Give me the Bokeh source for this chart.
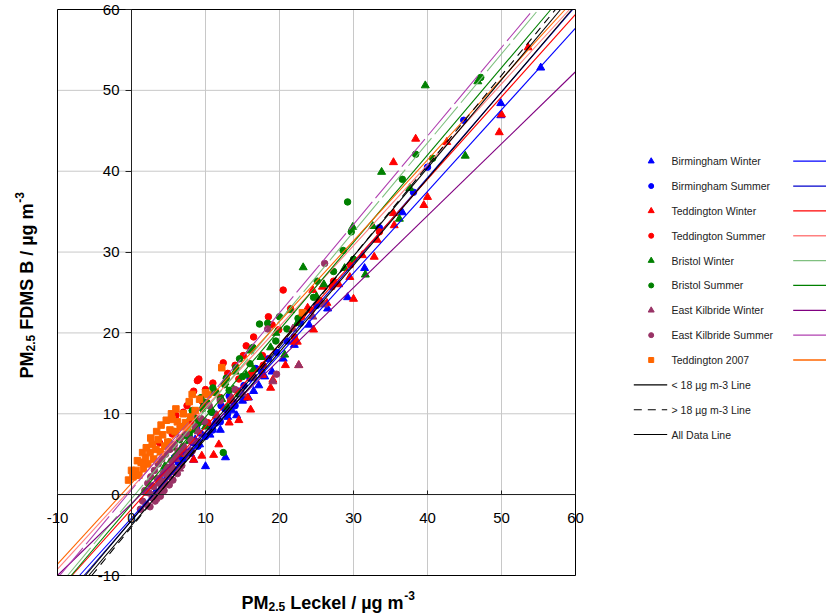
from bokeh.plotting import figure
from bokeh.models import FixedTicker
from bokeh.embed import file_html
from bokeh.resources import INLINE
from bokeh.core.properties import value

# ---------------- data ----------------
TICKS = [-10, 0, 10, 20, 30, 40, 50, 60]
TICK_LABELS = ["-10", "0", "10", "20", "30", "40", "50", "60"]

bw_x = [3.2, 4.0, 4.8, 5.5, 6.0, 6.8, 7.2, 8.0, 8.4, 8.6, 9.2, 10.0, 10.6, 11.2, 12.0, 12.7, 13.0, 13.6, 14.2, 15.0,
        15.8, 16.5, 17.2, 18.0, 19.0, 20.5, 22.0, 24.0, 26.5, 29.2, 31.5, 36.6, 49.9, 49.9, 55.3]
bw_y = [0.3, 1.8, 2.2, 3.5, 2.8, 4.5, 5.4, 5.0, 4.3, 6.8, 6.2, 3.5, 7.4, 8.8, 8.0, 4.6, 9.6, 10.4, 9.8, 11.6,
        12.0, 12.8, 13.5, 14.6, 15.2, 16.8, 18.5, 21.0, 23.0, 24.4, 28.0, 34.9, 48.4, 46.9, 52.8]

bs_x = [3.8, 4.5, 5.2, 5.8, 6.3, 6.9, 7.4, 7.9, 8.3, 8.8, 9.3, 9.8, 10.4, 10.9, 11.5, 12.1, 12.6, 13.2, 13.8, 14.5,
        15.2, 16.0, 16.8, 17.6, 18.5, 19.6, 21.0, 22.8, 25.0, 33.5, 38.1, 40.0, 44.9,
        7.0, 8.0, 9.0, 10.0, 11.0, 12.0, 13.0, 14.0, 15.5]
bs_y = [1.5, 2.8, 3.4, 4.6, 4.0, 5.8, 5.2, 7.0, 6.4, 8.2, 7.6, 9.0, 8.5, 10.2, 9.6, 11.0, 10.6, 12.2, 11.4, 12.8,
        13.5, 14.4, 15.6, 15.2, 16.8, 17.6, 19.0, 21.2, 23.4, 33.0, 37.4, 40.5, 46.3,
        4.4, 5.4, 6.0, 7.2, 8.0, 9.0, 10.0, 11.0, 12.0]

tw_x = [5.0, 6.5, 8.4, 9.5, 11.1, 11.8, 13.2, 14.5, 15.7, 16.1, 17.7, 18.8, 19.1, 20.8, 21.9, 22.4, 22.6, 23.8, 24.5,
        24.6, 25.8, 26.4, 28.0, 29.5, 30.0, 31.2, 32.8, 33.2, 35.4, 35.4, 35.5, 38.4, 39.5, 40.0, 42.6, 49.7, 50.0, 53.6]
tw_y = [2.8, 5.0, 4.3, 4.8, 4.9, 6.2, 8.9, 9.2, 12.0, 10.5, 14.8, 13.2, 14.2, 16.0, 18.9, 18.9, 16.0, 23.1, 25.3,
        20.4, 25.7, 23.7, 26.0, 26.9, 24.2, 29.6, 29.4, 31.5, 41.1, 34.8, 33.3, 44.0, 35.8, 36.8, 43.6, 44.8, 47.0, 55.3]

ts_x = [3.8, 5.5, 6.6, 7.0, 8.0, 8.4, 8.6, 8.9, 9.1, 10.0, 10.3, 11.4, 12.4, 13.4, 14.5, 15.1, 15.5, 16.2, 17.7,
        17.8, 18.5, 19.9, 20.5, 22.0, 23.0, 24.3, 25.4, 27.1, 27.3, 29.6, 33.5,
        6.0, 7.5, 9.6, 11.0, 12.0, 13.0, 14.0, 16.5, 19.0, 21.5]
ts_y = [6.4, 7.5, 8.4, 10.2, 9.0, 12.8, 9.5, 14.1, 14.3, 13.0, 8.9, 12.7, 16.3, 11.7, 14.3, 17.2, 18.4, 15.0, 17.2,
        16.0, 22.0, 20.4, 25.3, 19.5, 22.0, 22.8, 24.0, 25.7, 26.4, 28.4, 32.5,
        9.8, 11.0, 11.5, 13.8, 12.0, 15.0, 16.0, 19.5, 21.0, 23.0]

brw_x = [4.5, 5.5, 6.2, 7.0, 7.8, 8.5, 9.2, 10.0, 10.8, 11.5, 12.2, 13.0, 13.8, 14.5, 15.5, 16.5, 17.5, 18.8, 20.7,
         22.4, 23.2, 25.0, 26.0, 28.8, 29.9, 31.6, 32.6, 33.8, 36.2, 37.6, 39.7, 45.1, 46.8,
         8.0, 9.8, 11.0, 12.6, 14.0, 16.0, 19.5, 21.5]
brw_y = [3.5, 5.8, 5.0, 7.2, 6.6, 8.0, 9.0, 8.4, 10.5, 9.8, 11.8, 10.8, 13.0, 12.4, 14.8, 15.5, 17.0, 18.2, 17.3,
         21.2, 28.1, 24.5, 26.0, 28.0, 33.1, 27.2, 33.2, 39.9, 34.1, 37.9, 50.6, 41.9, 51.1,
         9.6, 11.2, 12.6, 13.9, 15.2, 17.8, 20.0, 22.8]

brs_x = [5.0, 5.8, 6.5, 7.2, 7.8, 8.4, 9.0, 9.6, 10.2, 10.8, 11.4, 12.0, 12.4, 12.6, 13.2, 14.1, 15.0, 16.0, 17.3,
         18.4, 19.5, 21.0, 22.5, 24.6, 25.1, 27.3, 28.6, 29.2, 29.7, 30.0, 36.6, 38.4, 40.7, 47.2,
         8.2, 9.4, 11.0, 12.8, 14.6, 16.4, 20.0]
brs_y = [6.5, 7.8, 6.8, 8.6, 7.5, 9.5, 8.8, 10.6, 11.4, 10.2, 12.6, 11.8, 5.2, 13.6, 12.9, 15.7, 14.6, 16.2, 21.1,
         21.2, 19.0, 20.5, 21.8, 24.4, 26.4, 27.6, 30.2, 36.2, 32.5, 29.1, 39.0, 42.1, 41.6, 51.6,
         10.4, 12.0, 13.2, 14.4, 16.8, 18.2, 22.0]

ekw_x = [2.2, 2.8, 3.3, 3.8, 4.2, 4.6, 5.0, 5.5, 6.0, 6.5, 7.0, 7.6, 8.2, 9.0, 10.0, 11.5, 13.5, 15.0, 19.1, 21.8,
         22.6, 24.5, 26.0]
ekw_y = [0.2, 1.0, -0.5, 2.0, 1.2, 3.0, 2.2, 3.6, 4.4, 3.2, 5.6, 5.0, 6.6, 7.8, 9.0, 9.8, 12.0, 12.5, 14.0, 20.5,
         16.0, 22.0, 23.5]

eks_x = [1.5, 1.8, 2.0, 2.2, 2.4, 2.6, 2.8, 3.0, 3.1, 3.3, 3.5, 3.6, 3.8, 4.0, 4.1, 4.3, 4.5, 4.6, 4.8, 5.0, 5.2,
         5.4, 5.6, 5.8, 6.0, 6.3, 6.6, 7.0, 7.4, 8.0, 8.6, 9.4, 10.5, 12.0, 14.0, 16.5, 18.4, 19.6, 26.1,
         1.2, 2.5, 3.2, 3.9, 4.4, 5.1, 5.6, 6.2, 6.8, 7.5, 8.2, 9.0]
eks_y = [-0.8, 0.5, -1.2, 1.4, 0.2, 2.2, -0.4, 1.0, 3.0, 0.0, 2.0, 3.8, 1.4, 0.6, 4.4, 2.6, 1.6, 5.0, 3.4, 2.4, 5.6,
         4.2, 3.0, 6.2, 4.8, 5.4, 7.0, 6.0, 7.6, 6.8, 8.4, 9.4, 11.0, 11.6, 13.0, 14.5, 20.5, 14.9, 28.6,
         -1.8, -1.5, -0.8, -0.2, 0.5, 1.2, 1.8, 2.6, 3.6, 4.8, 5.4, 6.5]

t07_x = [-0.4, 0.2, 0.6, 1.0, 1.3, 1.6, 1.9, 2.2, 2.5, 2.8, 3.0, 3.3, 3.6, 3.9, 4.2, 4.5, 4.9, 5.2, 5.5, 5.9, 6.2,
         6.6, 7.0, 7.3, 7.6, 8.0, 8.6, 9.2, 10.0, 10.3, 12.2, 23.1,
         0.0, 0.8, 1.5, 2.0, 2.6, 3.4, 4.0, 4.7, 5.4, 6.0, 7.8, 8.2]
t07_y = [1.8, 2.2, 3.0, 2.4, 4.0, 3.2, 4.6, 3.8, 5.2, 6.2, 4.4, 5.6, 6.8, 5.3, 7.4, 6.0, 6.5, 8.0, 9.3, 7.8, 9.0,
         8.4, 10.0, 8.9, 8.3, 9.6, 10.4, 11.8, 12.6, 12.4, 15.7, 22.5,
         3.0, 4.2, 5.2, 5.8, 7.0, 7.8, 8.6, 9.2, 10.0, 10.6, 11.5, 12.4]

series_names = ["Birmingham Winter", "Birmingham Summer", "Teddington Winter", "Teddington Summer",
                "Bristol Winter", "Bristol Summer", "East Kilbride Winter", "East Kilbride Summer",
                "Teddington 2007"]
series_x = [bw_x, bs_x, tw_x, ts_x, brw_x, brs_x, ekw_x, eks_x, t07_x]
series_y = [bw_y, bs_y, tw_y, ts_y, brw_y, brs_y, ekw_y, eks_y, t07_y]
series_markers = ["triangle", "circle", "triangle", "circle", "triangle", "circle", "triangle", "circle", "square"]
marker_colors = ["#0000FF", "#0000FF", "#FF0000", "#FF0000", "#008000", "#008000", "#993366", "#993366", "#FF6600"]

# regression fits (slope, intercept) per series
fit_slope = [1.01, 1.06, 1.02, 1.00, 1.10, 1.08, 0.89, 1.094, 1.00]
fit_intercept = [-2.9, -3.2, -1.8, 0.8, -0.5, -1.2, -1.1, 0.6, 1.4]
fit_colors = ["#0000FF", "#0000CC", "#FF0000", "#FF8080", "#80C080", "#008000", "#800080", "#B040B0", "#FF6600"]
fit_dash = ["solid", "solid", "solid", "solid", "36 5", "solid", "solid", "36 5", "solid"]

# overall fits: < 18, > 18, all data
all_names = ["< 18 \u00b5g m-3 Line", "> 18 \u00b5g m-3 Line", "All Data Line"]
all_slope = [1.09, 1.117, 1.072]
all_intercept = [-3.2, -4.0, -3.8]
all_dash = ["solid", "8 6", "solid"]

LO, HI = -10, 60

# ---------------- layout geometry (pixels) ----------------
W, H = 826, 614
BOX_L, BOX_R, BOX_T, BOX_B = 57, 575, 9, 575
PPX = (BOX_R - BOX_L) / (HI - LO)
PPY = (BOX_B - BOX_T) / (HI - LO)
XS = LO - BOX_L / PPX
XE = XS + W / PPX
YT = HI + BOX_T / PPY
YB = YT - H / PPY


def X(px):
    return XS + px / PPX


def Y(py):
    return YT - py / PPY


FONT = "Liberation Sans"

p = figure(width=W, height=H, x_range=(XS, XE), y_range=(YB, YT), output_backend="svg",
           toolbar_location=None, title=None, min_border=0,
           min_border_left=0, min_border_right=0, min_border_top=0, min_border_bottom=0)
p.background_fill_color = "white"
p.border_fill_color = "white"
p.outline_line_color = None
p.grid.visible = False

for ax in (p.xaxis, p.yaxis):
    ax.fixed_location = 0
    ax.bounds = (LO, HI)
    ax.ticker = FixedTicker(ticks=TICKS)
    ax.major_label_overrides = {t: lab for t, lab in zip(TICKS, TICK_LABELS)}
    ax.minor_tick_line_color = None
    ax.axis_line_color = "#222222"
    ax.major_tick_line_color = "#222222"
    ax.major_label_text_font = FONT
    ax.major_label_text_font_size = "15px"
    ax.major_label_text_color = "black"
p.xaxis.major_tick_in = 4
p.xaxis.major_tick_out = 0
p.xaxis.major_label_standoff = 18
p.yaxis.major_tick_in = 0
p.yaxis.major_tick_out = 6
p.yaxis.major_label_standoff = 6

# grid lines inside the box
p.segment(x0=TICKS, y0=[LO] * len(TICKS), x1=TICKS, y1=[HI] * len(TICKS), line_color="#c8c8c8", line_width=1)
p.segment(x0=[LO] * len(TICKS), y0=TICKS, x1=[HI] * len(TICKS), y1=TICKS, line_color="#c8c8c8", line_width=1)

for xs, ys, mk, col in zip(series_x, series_y, series_markers, marker_colors):
    size = 8 if mk == "triangle" else 6.5
    p.scatter(xs, ys, marker=mk, size=size, fill_color=col, line_color=col)


def clipped(m, c):
    x0 = max(LO, (LO - c) / m)
    x1 = min(HI, (HI - c) / m)
    return [x0, x1], [m * x0 + c, m * x1 + c]


for m, c, col, dash in zip(fit_slope, fit_intercept, fit_colors, fit_dash):
    xx, yy = clipped(m, c)
    p.line(xx, yy, line_color=col, line_width=1.1, line_dash=dash)
for m, c, dash in zip(all_slope, all_intercept, all_dash):
    xx, yy = clipped(m, c)
    p.line(xx, yy, line_color="black", line_width=1.1, line_dash=dash)

# plot box
p.quad(left=[LO], right=[HI], bottom=[LO], top=[HI], fill_color=None, line_color="black", line_width=1)

# ---- axis titles with sub/superscripts ----
CW = {"P": 667, "M": 833, " ": 278, "L": 611, "e": 556, "c": 556, "k": 556, "l": 278, "/": 278, "\u00b5": 611,
      "g": 611, "m": 889, "F": 611, "D": 722, "S": 667, "B": 722, "2": 556, ".": 278, "5": 556, "-": 333, "3": 556}


def tw(s, size):
    return sum(CW.get(ch, 556) for ch in s) * size / 1000.0


def add_title(parts, px0, py0, rotated):
    pos = 0.0
    for txt, size, shift in parts:
        lead = len(txt) - len(txt.lstrip(" "))
        pos += tw(" " * lead, size)
        txt = txt.lstrip(" ")
        if rotated:
            px, py, ang = px0 + shift, py0 - pos, 1.5707963267948966
        else:
            px, py, ang = px0 + pos, py0 + shift, 0.0
        p.text([X(px)], [Y(py)], text=[txt], angle=ang, text_font=value(FONT),
               text_font_size=f"{size}px", text_font_style="bold", text_color="black",
               text_baseline="alphabetic", text_align="left")
        pos += tw(txt, size)


x_title = [("PM", 18, 0), ("2.5", 12, 4), (" Leckel / \u00b5g m", 18, 0), ("-3", 12, -7)]
y_title = [("PM", 18, 0), ("2.5", 12, 4), (" FDMS B / \u00b5g m", 18, 0), ("-3", 12, -7)]
add_title(x_title, 241, 602, False)
add_title(y_title, 26, 378, True)

# ---------------- legend ----------------
ROW0, STEP = 160.7, 24.85
MK_X, TXT_X, LN_X0, LN_X1, BL_X0, BL_X1 = 650.7, 671, 792.7, 826, 633.3, 666.7
for i, (name, mk, mcol, lcol) in enumerate(zip(series_names, series_markers, marker_colors, fit_colors)):
    ry = Y(ROW0 + STEP * i)
    p.scatter([X(MK_X)], [ry], marker=mk, size=6 if mk == "triangle" else 5, fill_color=mcol, line_color=mcol)
    p.text([X(TXT_X)], [ry], text=[name], text_font=value(FONT), text_font_size="10.5px",
           text_baseline="middle", text_align="left", text_color="#222222")
    p.line([X(LN_X0), X(LN_X1)], [ry, ry], line_color=lcol, line_width=1.3)
for j, (name, dash) in enumerate(zip(all_names, all_dash)):
    ry = Y(ROW0 + STEP * (9 + j))
    p.line([X(BL_X0), X(BL_X1)], [ry, ry], line_color="black", line_width=1.1, line_dash=dash)
    p.text([X(TXT_X)], [ry], text=[name], text_font=value(FONT), text_font_size="10.5px",
           text_baseline="middle", text_align="left", text_color="#222222")

open("out.html", "w").write(file_html(p, INLINE))
